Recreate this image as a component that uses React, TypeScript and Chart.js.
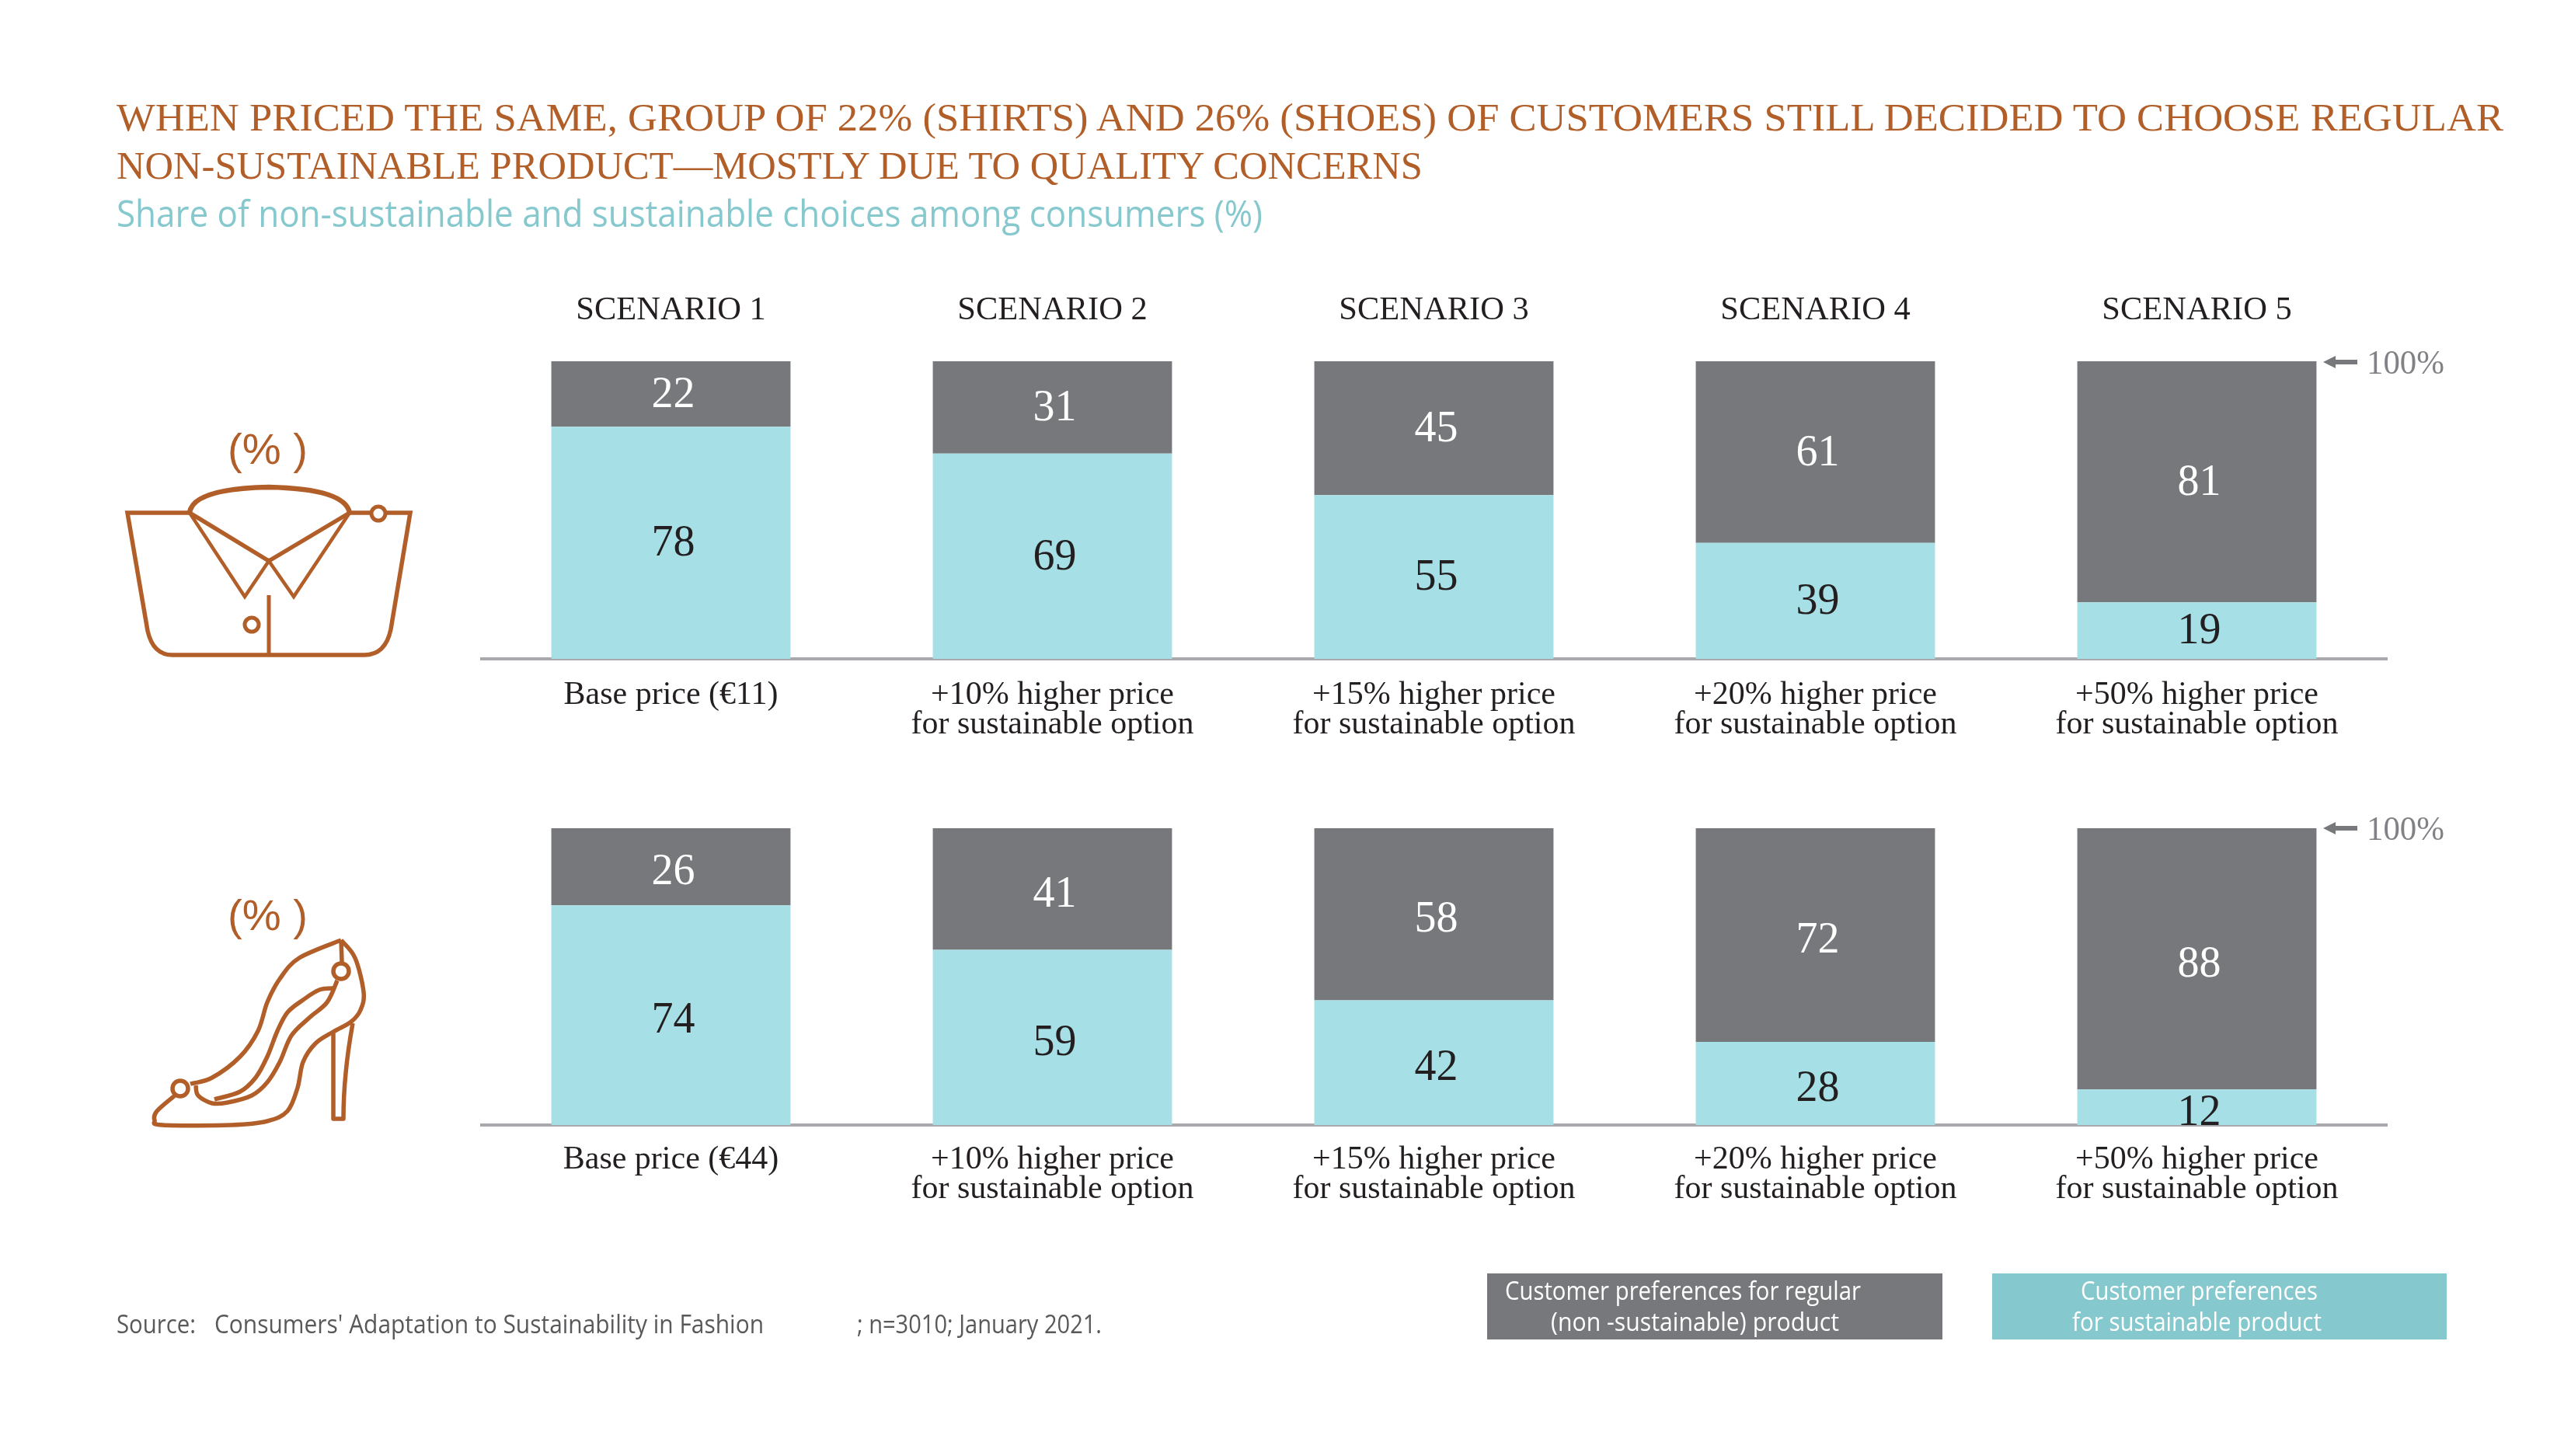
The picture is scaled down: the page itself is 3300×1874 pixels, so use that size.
import React, { useEffect, useRef } from "react";
import { Chart, registerables } from "chart.js";

Chart.register(...registerables);

const scenarios = ["SCENARIO 1", "SCENARIO 2", "SCENARIO 3", "SCENARIO 4", "SCENARIO 5"];
const shirtPriceLabels = [
  "Base price (€11)",
  ["+10% higher price", "for sustainable option"],
  ["+15% higher price", "for sustainable option"],
  ["+20% higher price", "for sustainable option"],
  ["+50% higher price", "for sustainable option"],
];
const shoePriceLabels = [
  "Base price (€44)",
  ["+10% higher price", "for sustainable option"],
  ["+15% higher price", "for sustainable option"],
  ["+20% higher price", "for sustainable option"],
  ["+50% higher price", "for sustainable option"],
];
const shirtSustainable = [78, 69, 55, 39, 19];
const shirtRegular = [22, 31, 45, 61, 81];
const shoeSustainable = [74, 59, 42, 28, 12];
const shoeRegular = [26, 41, 58, 72, 88];

const GRAY = "#77787B";
const TEAL_BAR = "#A6DFE5";
const TEAL = "#85C8CE";
const BROWN = "#B15E28";
const INK = "#231F20";
const SERIF = '"Liberation Serif", serif';
const SANS = '"Open Sans", sans-serif';

const segmentLabels = {
  id: "segmentLabels",
  afterDatasetsDraw(chart: any, _args: any, opts: any) {
    const { ctx } = chart;
    ctx.save();
    ctx.font = `56px ${SERIF}`;
    ctx.textAlign = "center";
    ctx.textBaseline = "middle";
    chart.data.datasets.forEach((ds: any, i: number) => {
      ctx.fillStyle = i === 0 ? INK : "#FFFFFF";
      chart.getDatasetMeta(i).data.forEach((el: any, j: number) => {
        const c = el.getCenterPoint();
        ctx.fillText(String(ds.data[j]), c.x + 3, c.y + (opts.dy || 0));
      });
    });
    ctx.restore();
  },
};

function StackChart({ labels, sustainable, regular, top, height, padTop, header, labelDy, tickPad }: any) {
  const ref = useRef<HTMLCanvasElement>(null);
  useEffect(() => {
    const scales: any = {
      x: {
        stacked: true,
        position: "bottom",
        grid: { display: false, drawTicks: false },
        border: { display: true, color: "#A7A9AC", width: 4 },
        ticks: {
          color: INK,
          font: { family: SERIF, size: 42, lineHeight: 0.91 },
          padding: tickPad,
          maxRotation: 0,
          autoSkip: false,
        },
        afterFit: (s: any) => { s.height = 110; },
      },
      y: { stacked: true, display: false, min: 0, max: 100 },
    };
    if (header) {
      scales.x2 = {
        type: "category",
        position: "top",
        labels: header,
        grid: { display: false, drawTicks: false },
        border: { display: false },
        ticks: {
          color: INK,
          font: { family: SERIF, size: 42.5, lineHeight: 1 },
          padding: 44,
          maxRotation: 0,
          autoSkip: false,
        },
        afterFit: (s: any) => { s.height = 105; },
      };
    }
    const chart = new Chart(ref.current!, {
      type: "bar",
      data: {
        labels,
        datasets: [
          { label: "Customer preferences for sustainable product", data: sustainable, backgroundColor: TEAL_BAR, barPercentage: 0.627, categoryPercentage: 1 },
          { label: "Customer preferences for regular (non-sustainable) product", data: regular, backgroundColor: GRAY, barPercentage: 0.627, categoryPercentage: 1 },
        ],
      },
      options: {
        responsive: false,
        animation: false,
        devicePixelRatio: 1,
        layout: { padding: { top: padTop, left: 0, right: 0, bottom: 0 } },
        plugins: {
          legend: { display: false },
          tooltip: { enabled: false },
          title: { display: false },
          segmentLabels: { dy: labelDy },
        },
        scales,
      },
      plugins: [segmentLabels],
    } as any);
    return () => chart.destroy();
  }, []);
  return (
    <canvas
      ref={ref}
      width={2455}
      height={height}
      style={{ position: "absolute", left: 618, top, width: 2455, height }}
    />
  );
}

function Txt({ x, y, w, size, fill, family, anchor, children, weight }: any) {
  return (
    <text
      x={x}
      y={y}
      fontFamily={family}
      fontSize={size}
      fill={fill}
      textAnchor={anchor || "start"}
      fontWeight={weight || 400}
      {...(w ? { textLength: w, lengthAdjust: "spacingAndGlyphs" } : {})}
    >
      {children}
    </text>
  );
}

// Smooth outline through a list of icon points (decoration only, no chart data).
function smooth(pts: number[][]) {
  let d = `M${pts[0][0]} ${pts[0][1]}`;
  for (let i = 0; i < pts.length - 1; i++) {
    const p0 = pts[i - 1] || pts[i];
    const p1 = pts[i];
    const p2 = pts[i + 1];
    const p3 = pts[i + 2] || p2;
    d += ` C${p1[0] + (p2[0] - p0[0]) / 6} ${p1[1] + (p2[1] - p0[1]) / 6} ${p2[0] - (p3[0] - p1[0]) / 6} ${p2[1] - (p3[1] - p1[1]) / 6} ${p2[0]} ${p2[1]}`;
  }
  return d;
}

const shoeUpper = [[245, 1395], [273, 1387], [309, 1360], [332, 1327], [344, 1290], [360, 1260], [385, 1233], [439, 1210]];
const shoeBack = [[439, 1210], [457, 1233], [468, 1277], [464, 1300], [452, 1315], [429, 1328], [406, 1343], [390, 1367], [383, 1400], [370, 1430], [344, 1443], [298, 1448], [209, 1448], [199, 1442], [202, 1430], [225, 1410]];
const shoeInnerA = [[434, 1262], [421, 1290], [398, 1310], [375, 1333], [360, 1367], [344, 1393], [324, 1410], [293, 1419], [273, 1420], [255, 1410], [252, 1397]];
const shoeInnerB = [[431, 1272], [411, 1274], [390, 1287], [370, 1303], [357, 1327], [344, 1360], [329, 1387], [309, 1405], [276, 1415]];

function Overlay() {
  return (
    <svg width={3300} height={1874} style={{ position: "absolute", left: 0, top: 0, pointerEvents: "none" }}>
      <Txt x={150} y={168} w={3072} size={51} fill={BROWN} family={SERIF}>
        WHEN PRICED THE SAME, GROUP OF 22% (SHIRTS) AND 26% (SHOES) OF CUSTOMERS STILL DECIDED TO CHOOSE REGULAR
      </Txt>
      <Txt x={150} y={230} w={1681} size={51} fill={BROWN} family={SERIF}>
        NON-SUSTAINABLE PRODUCT—MOSTLY DUE TO QUALITY CONCERNS
      </Txt>
      <Txt x={150} y={292} w={1475} size={48} fill={TEAL} family={SANS}>
        Share of non-sustainable and sustainable choices among consumers (%)
      </Txt>

      <Txt x={293} y={597} w={103} size={56} fill={BROWN} family='"Liberation Sans", sans-serif'>(% )</Txt>
      <Txt x={293} y={1197} w={103} size={56} fill={BROWN} family='"Liberation Sans", sans-serif'>(% )</Txt>

      <g fill="none" stroke={BROWN} strokeWidth={5} strokeLinejoin="miter">
        <path d="M244 660 H164 L190 812 Q197 843 222 843 H469 Q496 843 503 810 L528 660 H450" strokeWidth={5.5} />
        <path d="M244 660 Q248 629 346 627 Q444 629 450 660" strokeWidth={6.5} />
        <path d="M244 660 L346 722 M450 660 L346 722" strokeWidth={5.5} />
        <path d="M244 660 L315 768 L346 722 L378 768 L450 660" strokeWidth={4.5} />
        <path d="M346 766 V843" strokeWidth={5} />
        <circle cx={487} cy={661} r={9} fill="#fff" />
        <circle cx={324} cy={804} r={9} />
      </g>

      <g fill="none" stroke={BROWN} strokeWidth={5.5} strokeLinejoin="round">
        <path d={smooth(shoeUpper)} />
        <path d={smooth(shoeBack)} />
        <path d="M429 1330 V1440 H442 C442 1390 448 1350 454 1317" />
        <path d="M439 1210 L440 1238" />
        <path d={smooth(shoeInnerA)} />
        <path d={smooth(shoeInnerB)} />
        <circle cx={439} cy={1250} r={10} fill="#fff" />
        <circle cx={232} cy={1401} r={10} fill="#fff" />
      </g>

      {[466, 1066].map((y) => (
        <g key={y}>
          <path d={`M2990 ${y} L3006 ${y - 8} V${y - 3} H3034 V${y + 3} H3006 V${y + 8} Z`} fill={GRAY} />
          <Txt x={3046} y={y + 15} w={100} size={44} fill="#808285" family={SERIF}>100%</Txt>
        </g>
      ))}

      <Txt x={150} y={1716} w={102} size={32} fill="#58595B" family={SANS}>Source:</Txt>
      <Txt x={276} y={1716} w={707} size={32} fill="#58595B" family={SANS}>{"Consumers' Adaptation to Sustainability in Fashion"}</Txt>
      <Txt x={1103} y={1716} w={315} size={32} fill="#58595B" family={SANS}>; n=3010; January 2021.</Txt>

      <rect x={1914} y={1639} width={586} height={85} fill={GRAY} />
      <rect x={2564} y={1639} width={585} height={85} fill={TEAL} />
      <Txt x={1937} y={1673} w={458} size={32} fill="#FFFFFF" family={SANS}>Customer preferences for regular</Txt>
      <Txt x={1996} y={1713} w={371} size={32} fill="#FFFFFF" family={SANS}>(non -sustainable) product</Txt>
      <Txt x={2678} y={1673} w={305} size={32} fill="#FFFFFF" family={SANS}>Customer preferences</Txt>
      <Txt x={2667} y={1713} w={321} size={32} fill="#FFFFFF" family={SANS}>for sustainable product</Txt>
    </svg>
  );
}

export default function App() {
  return (
    <div style={{ position: "absolute", left: 0, top: 0, width: 3300, height: 1874, background: "#fff", overflow: "hidden" }}>
      <StackChart labels={shirtPriceLabels} sustainable={shirtSustainable} regular={shirtRegular} top={360} height={598} padTop={0} header={scenarios} labelDy={2} tickPad={28} />
      <StackChart labels={shoePriceLabels} sustainable={shoeSustainable} regular={shoeRegular} top={1036} height={522} padTop={30} labelDy={8} tickPad={26} />
      <Overlay />
    </div>
  );
}
